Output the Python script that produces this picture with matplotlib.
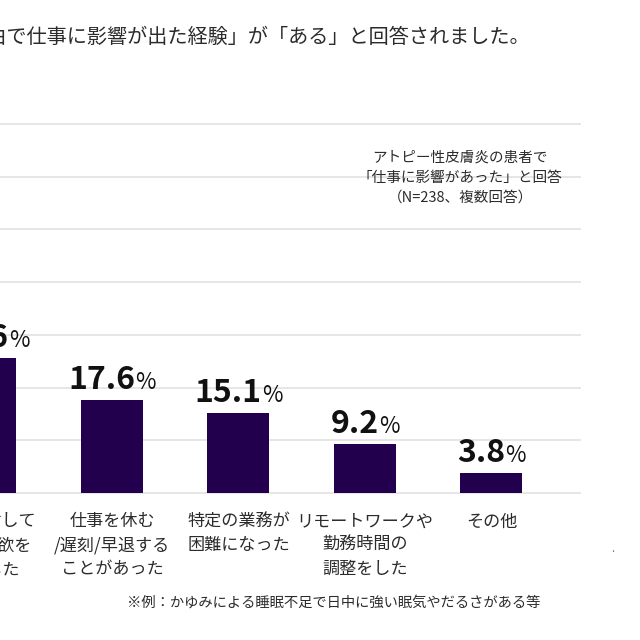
"""Bar chart: work impact of atopic dermatitis (cropped view)."""

import matplotlib
matplotlib.use("Agg")
import matplotlib.pyplot as plt

plt.rcParams["font.family"] = ["Noto Sans CJK JP", "DejaVu Sans"]

categories = [
    "仕事に対して\n集中/意欲を\n喪失した",
    "仕事を休む\n/遅刻/早退する\nことがあった",
    "特定の業務が\n困難になった",
    "リモートワークや\n勤務時間の\n調整をした",
    "その他",
]
values = [25.6, 17.6, 15.1, 9.2, 3.8]
value_labels = ["25.6", "17.6", "15.1", "9.2", "3.8"]
gridlines = [0, 10, 20, 30, 40, 50, 60, 70]

BAR = "#22004e"
TEXT = "#2b2b2b"

fig = plt.figure(figsize=(6.4, 6.4), dpi=100)
# axes deliberately run off the left edge: the reference is a crop
ax = fig.add_axes([-0.1215, 0.2297, 1.0278, 0.5766])
ax.set_xlim(-0.5, 4.7)
ax.set_ylim(0, 70)

for g in gridlines:
    ax.axhline(g, color="#e4e4e4", linewidth=1.3, zorder=0, clip_on=False)

x = list(range(len(values)))
ax.bar(x, values, width=0.49, color=BAR, zorder=2)

for s in ax.spines.values():
    s.set_visible(False)
ax.set_yticks([])
ax.set_xticks(x)
ax.set_xticklabels(categories, fontsize=12.3, color=TEXT, linespacing=1.42,
                   va="top")
ax.tick_params(axis="x", length=0, pad=14)

# value labels: bold number + smaller percent sign, centred over the bar
nums, pcts = [], []
for xi, v, lab in zip(x, values, value_labels):
    n = ax.annotate(lab, (xi, v), xytext=(0, 8), textcoords="offset points",
                    ha="right", va="baseline", fontsize=23,
                    fontweight="bold", color="#111111")
    p = ax.annotate("%", (xi, v), xytext=(0, 8), textcoords="offset points",
                    ha="left", va="baseline", fontsize=16, color="#111111")
    nums.append(n)
    pcts.append(p)

fig.canvas.draw()
r = fig.canvas.get_renderer()
for n, p in zip(nums, pcts):
    wn = n.get_window_extent(r).width
    wp = p.get_window_extent(r).width
    shift = (wn - wp) / 2 * 72 / fig.dpi
    n.set_position((shift, 8))
    p.set_position((shift, 8))

fig.text(0.828, 0.942,
         "アトピー性皮膚炎が理由で仕事に影響が出た経験」が「ある」と回答されました。",
         ha="right", va="center", fontsize=14.5, color=TEXT)

fig.text(0.719, 0.722,
         "アトピー性皮膚炎の患者で\n「仕事に影響があった」と回答\n（N=238、複数回答）",
         ha="center", va="center", fontsize=10.5, color=TEXT,
         linespacing=1.55)

fig.text(0.522, 0.058, "※例：かゆみによる睡眠不足で日中に強い眠気やだるさがある等",
         ha="center", va="center", fontsize=10.3, color=TEXT)

fig.text(0.957, 0.142, ".", ha="center", va="center", fontsize=8,
         color="#777777")

fig.savefig("out.png", dpi=100, facecolor="white")
